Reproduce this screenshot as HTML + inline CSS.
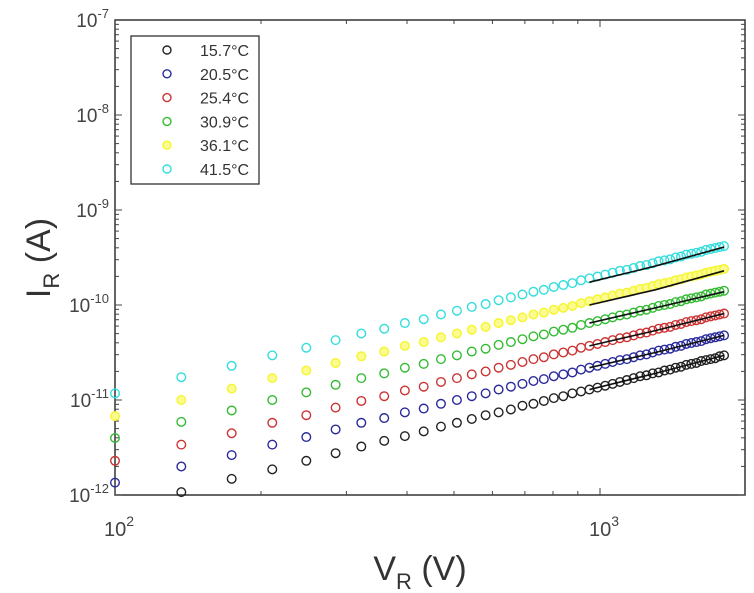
<!DOCTYPE html>
<html><head><meta charset="utf-8"><style>
body{margin:0;background:#fff;}
svg{display:block;font-family:"Liberation Sans",sans-serif;}
</style></head><body>
<svg id="chart" width="754" height="593" viewBox="0 0 754 593">
<g id="axes"></g><g id="plot"></g><g id="legend"></g>
</svg>
<script>
const voltages = [100,137,174,211,248,285,322,359,396,433,470,507,544,581,618,655,692,729,766,803,840,877,914,951,988,1025,1062,1099,1136,1173,1210,1247,1284,1321,1358,1395,1432,1469,1506,1543,1580,1617,1654,1691,1728,1765,1802];
const seriesNames = ["15.7°C","20.5°C","25.4°C","30.9°C","36.1°C","41.5°C"];
const seriesColors = ["#222222","#2a2a9c","#cc3333","#33bb33","#f5f530","#33dddd"];
const logI_15_7 = [null,-11.97,-11.83,-11.73,-11.64,-11.56,-11.49,-11.43,-11.38,-11.33,-11.28,-11.24,-11.20,-11.16,-11.13,-11.10,-11.06,-11.04,-11.01,-10.98,-10.96,-10.93,-10.91,-10.89,-10.87,-10.85,-10.83,-10.81,-10.79,-10.77,-10.75,-10.74,-10.72,-10.71,-10.69,-10.68,-10.66,-10.65,-10.63,-10.62,-10.61,-10.59,-10.58,-10.57,-10.56,-10.54,-10.53];
const logI_20_5 = [-11.87,-11.70,-11.58,-11.47,-11.39,-11.31,-11.24,-11.19,-11.13,-11.09,-11.04,-11.00,-10.96,-10.93,-10.89,-10.86,-10.83,-10.80,-10.78,-10.75,-10.73,-10.71,-10.68,-10.66,-10.64,-10.62,-10.60,-10.58,-10.57,-10.55,-10.53,-10.52,-10.50,-10.48,-10.47,-10.46,-10.44,-10.43,-10.41,-10.40,-10.39,-10.38,-10.36,-10.35,-10.34,-10.33,-10.32];
const logI_25_4 = [-11.64,-11.47,-11.35,-11.24,-11.16,-11.08,-11.01,-10.96,-10.90,-10.86,-10.81,-10.77,-10.73,-10.70,-10.66,-10.63,-10.60,-10.57,-10.55,-10.52,-10.50,-10.48,-10.45,-10.43,-10.41,-10.39,-10.37,-10.35,-10.34,-10.32,-10.30,-10.29,-10.27,-10.25,-10.24,-10.23,-10.21,-10.20,-10.18,-10.17,-10.16,-10.15,-10.13,-10.12,-10.11,-10.10,-10.09];
const logI_30_9 = [-11.40,-11.23,-11.11,-11.00,-10.92,-10.84,-10.77,-10.72,-10.66,-10.62,-10.57,-10.53,-10.49,-10.46,-10.42,-10.39,-10.36,-10.33,-10.31,-10.28,-10.26,-10.24,-10.21,-10.19,-10.17,-10.15,-10.13,-10.11,-10.10,-10.08,-10.06,-10.05,-10.03,-10.01,-10.00,-9.99,-9.97,-9.96,-9.94,-9.93,-9.92,-9.91,-9.89,-9.88,-9.87,-9.86,-9.85];
const logI_36_1 = [-11.17,-11.00,-10.88,-10.77,-10.69,-10.61,-10.54,-10.49,-10.43,-10.39,-10.34,-10.30,-10.26,-10.23,-10.19,-10.16,-10.13,-10.10,-10.08,-10.05,-10.03,-10.01,-9.98,-9.96,-9.94,-9.92,-9.90,-9.88,-9.87,-9.85,-9.83,-9.82,-9.80,-9.78,-9.77,-9.76,-9.74,-9.73,-9.71,-9.70,-9.69,-9.68,-9.66,-9.65,-9.64,-9.63,-9.62];
const logI_41_5 = [-10.93,-10.76,-10.64,-10.53,-10.45,-10.37,-10.30,-10.25,-10.19,-10.15,-10.10,-10.06,-10.02,-9.99,-9.95,-9.92,-9.89,-9.86,-9.84,-9.81,-9.79,-9.77,-9.74,-9.72,-9.70,-9.68,-9.66,-9.64,-9.63,-9.61,-9.59,-9.58,-9.56,-9.54,-9.53,-9.52,-9.50,-9.49,-9.47,-9.46,-9.45,-9.44,-9.42,-9.41,-9.40,-9.39,-9.38];
const fitV = [951,1300,1802];
const fit_15_7 = [-10.89,-10.72,-10.53];
const fit_20_5 = [-10.66,-10.50,-10.32];
const fit_25_4 = [-10.43,-10.27,-10.09];
const fit_30_9 = [-10.19,-10.03,-9.86];
const fit_36_1 = [-10.00,-9.84,-9.64];
const fit_41_5 = [-9.76,-9.59,-9.39];
const yTickExps = [-12,-11,-10,-9,-8,-7];
const xTickExps = [2,3];

const allSeries=[logI_15_7,logI_20_5,logI_25_4,logI_30_9,logI_36_1,logI_41_5];
const allFits=[fit_15_7,fit_20_5,fit_25_4,fit_30_9,fit_36_1,fit_41_5];
const NS="http://www.w3.org/2000/svg";
const L=115,R=745,T=20,B=495;
const xs=v=>L+(Math.log10(v)-2)*485;
const ys=lg=>B-(lg+12)*95;
function mk(tag,attrs,parent){const e=document.createElementNS(NS,tag);for(const k in attrs)e.setAttribute(k,attrs[k]);parent.appendChild(e);return e;}
const axes=document.getElementById('axes'),plot=document.getElementById('plot'),leg=document.getElementById('legend');

const frame=mk('rect',{x:L,y:T,width:R-L,height:B-T,fill:'none',stroke:'#333','stroke-width':1.5},axes);


for(let d=-12;d<-7;d++){for(let m=1;m<10;m++){const y=ys(d+Math.log10(m));const len=m===1?7:4;
 const t1=mk('line',{x1:L,x2:L+len,y1:y,y2:y,stroke:'#444','stroke-width':1},axes);
 
 
 const t2=mk('line',{x1:R,x2:R-len,y1:y,y2:y,stroke:'#444','stroke-width':1},axes);
 
 }}
yTickExps.forEach(e=>{const y=ys(e);
 const tx=mk('text',{x:L-6,y:y+7,'text-anchor':'end','font-size':19,fill:'#444'},axes);
 
 
 tx.innerHTML='10<tspan dy="-9" font-size="13">'+e+'</tspan>';});
for(let v=100;v<=1800;v+=(v<1000?100:1000)){const x=xs(v);const len=(v===100||v===1000)?7:4;
 const t1=mk('line',{x1:x,x2:x,y1:B,y2:B-len,stroke:'#444','stroke-width':1},axes);
 
 
 const t2=mk('line',{x1:x,x2:x,y1:T,y2:T+len,stroke:'#444','stroke-width':1},axes);
 
 }
xTickExps.forEach(e=>{const x=xs(Math.pow(10,e));
 const tx=mk('text',{x:x+4,y:536,'text-anchor':'middle','font-size':20,fill:'#444'},axes);
 
 
 tx.innerHTML='10<tspan dy="-10" font-size="14">'+e+'</tspan>';});
const xt=mk('text',{x:420,y:580,'text-anchor':'middle','font-size':34,fill:'#333'},axes);


xt.innerHTML='V<tspan dy="9" font-size="22">R</tspan><tspan dy="-9"> (V)</tspan>';
const yt=mk('text',{x:0,y:0,'text-anchor':'middle','font-size':34,fill:'#333',transform:'translate(50,258) rotate(-90)'},axes);


yt.innerHTML='I<tspan dy="9" font-size="22">R</tspan><tspan dy="-9"> (A)</tspan>';

allSeries.forEach((arr,si)=>{const g=mk('g',{},plot);
 
 
 arr.forEach((lg,i)=>{if(lg===null)return;const y=ys(lg);if(y>B+1)return;
  const c=mk('circle',{cx:xs(voltages[i]),cy:y,r:4.3,fill:si===4?'#fbfb90':'none',stroke:seriesColors[si],'stroke-width':1.4},g);
  
  });});
allFits.forEach((arr,si)=>{
 const p=mk('polyline',{points:arr.map((lg,i)=>xs(fitV[i])+','+ys(lg)).join(' '),fill:'none',stroke:'#111','stroke-width':1.6},plot);
 
 });

const lb=mk('rect',{x:131,y:36,width:128,height:148,fill:'#fff',stroke:'#333','stroke-width':1.3},leg);


seriesNames.forEach((n,i)=>{const y=50+i*23.8;
 const c=mk('circle',{cx:167,cy:y,r:4,fill:i===4?'#fbfb90':'none',stroke:seriesColors[i],'stroke-width':1.4},leg);
 
 
 const t=mk('text',{x:200,y:y+6,'font-size':16,fill:'#333'},leg);
 
 
 t.textContent=n;});
</script>
</body></html>
